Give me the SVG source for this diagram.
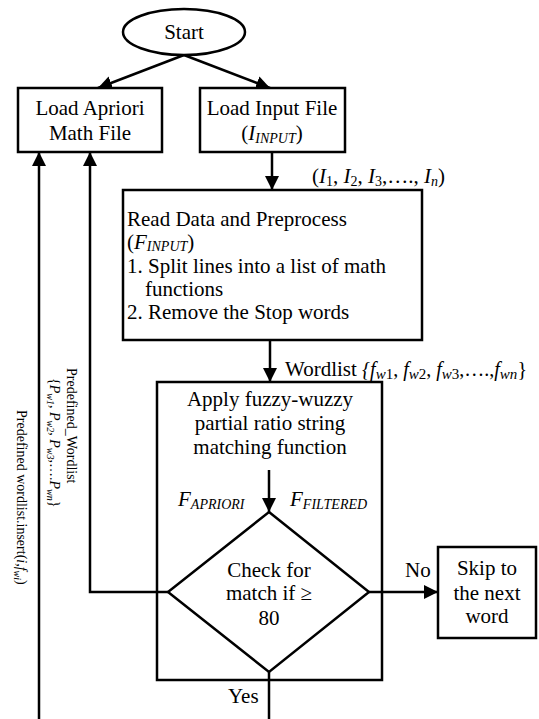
<svg xmlns="http://www.w3.org/2000/svg" width="539" height="719" viewBox="0 0 539 719" font-family="'Liberation Serif','Times New Roman',serif">
<style>
.s{fill:#fff;stroke:#000;stroke-width:2.5}
.c{fill:none;stroke:#000;stroke-width:2.5}
text{font-family:"Liberation Serif","Times New Roman",serif;font-size:21px;fill:#000}
.m{text-anchor:middle}
.i{font-style:italic}
.sub{font-size:14px}
.r{font-size:14px}
.w{font-size:20px}
.ws{font-size:15px}
</style>
<defs>
<marker id="a" markerUnits="userSpaceOnUse" markerWidth="14" markerHeight="14" refX="14" refY="7" orient="auto">
<path d="M0,0 L14,7 L0,14 z" fill="#000"/>
</marker>
</defs>
<g id="connectors">
<line class="c" x1="184" y1="55" x2="98" y2="88" marker-end="url(#a)"/>
<line class="c" x1="184" y1="55" x2="270" y2="88" marker-end="url(#a)"/>
<line class="c" x1="272" y1="152" x2="272" y2="190" marker-end="url(#a)"/>
<line class="c" x1="270" y1="340" x2="270" y2="382" marker-end="url(#a)"/>
<line class="c" x1="269" y1="470" x2="269" y2="512" marker-end="url(#a)"/>
<line class="c" x1="369" y1="592" x2="438" y2="592" marker-end="url(#a)"/>
<polyline class="c" points="168,592 90,592 90,152" marker-end="url(#a)"/>
<line class="c" x1="269" y1="672" x2="269" y2="719"/>
<line class="c" x1="39" y1="719" x2="39" y2="152" marker-end="url(#a)"/>
</g>
<g id="start">
<ellipse class="s" cx="184" cy="32" rx="61" ry="23"/>
<text class="m" x="184" y="39">Start</text>
</g>
<g id="load-apriori">
<rect class="s" x="18" y="88" width="144" height="64"/>
<text class="m" x="90" y="115">Load Apriori</text>
<text class="m" x="90" y="140">Math File</text>
</g>
<g id="load-input">
<rect class="s" x="200" y="88" width="145" height="64"/>
<text class="m" x="272" y="115">Load Input File</text>
<text class="m" x="272" y="140">(<tspan class="i">I</tspan><tspan class="i sub" dy="3">INPUT</tspan><tspan dy="-3">)</tspan></text>
</g>
<g id="input-label">
<text x="312" y="183">(<tspan class="i">I</tspan><tspan class="sub" dy="3">1</tspan><tspan dy="-3">, </tspan><tspan class="i">I</tspan><tspan class="sub" dy="3">2</tspan><tspan dy="-3">, </tspan><tspan class="i">I</tspan><tspan class="sub" dy="3">3</tspan><tspan dy="-3">,…., </tspan><tspan class="i">I</tspan><tspan class="i sub" dy="3">n</tspan><tspan dy="-3">)</tspan></text>
</g>
<g id="read-data">
<rect class="s" x="123" y="190" width="299" height="150"/>
<text x="127" y="226">Read Data and Preprocess</text>
<text x="127" y="249">(<tspan class="i">F</tspan><tspan class="i sub" dy="2">INPUT</tspan><tspan dy="-2">)</tspan></text>
<text x="127" y="273">1. Split lines into a list of math</text>
<text x="145" y="296">functions</text>
<text x="127" y="319">2. Remove the Stop words</text>
</g>
<g id="wordlist-label">
<text x="285" y="376">Wordlist <tspan class="i w">{f</tspan><tspan class="i ws" dy="3">w</tspan><tspan class="ws">1</tspan><tspan class="w" dy="-3">, </tspan><tspan class="i w">f</tspan><tspan class="i ws" dy="3">w</tspan><tspan class="ws">2</tspan><tspan class="w" dy="-3">, </tspan><tspan class="i w">f</tspan><tspan class="i ws" dy="3">w</tspan><tspan class="ws">3</tspan><tspan class="w" dy="-3">,….,</tspan><tspan class="i w">f</tspan><tspan class="i ws" dy="3">wn</tspan><tspan class="w" dy="-3">}</tspan></text>
</g>
<g id="fuzzy-box">
<rect class="c" x="157" y="382" width="225" height="298"/>
<text class="m" x="270" y="406">Apply fuzzy-wuzzy</text>
<text class="m" x="270" y="430">partial ratio string</text>
<text class="m" x="270" y="454">matching function</text>
<text x="178" y="506"><tspan class="i">F</tspan><tspan class="i sub" dy="3">APRIORI</tspan></text>
<text x="290" y="506"><tspan class="i">F</tspan><tspan class="i sub" dy="3">FILTERED</tspan></text>
</g>
<g id="check">
<polygon class="s" points="269,512 369,592 269,672 168,592"/>
<text class="m" x="269" y="577">Check for</text>
<text class="m" x="269" y="600">match if ≥</text>
<text class="m" x="269" y="625">80</text>
</g>
<g id="skip">
<rect class="s" x="438" y="547" width="98" height="91"/>
<text class="m" x="487" y="575">Skip to</text>
<text class="m" x="487" y="600">the next</text>
<text class="m" x="487" y="623">word</text>
</g>
<g id="labels">
<text x="405" y="577">No</text>
<text x="228" y="703">Yes</text>
<text class="r" transform="translate(17,410) rotate(90)">Predefined  wordlist.insert(<tspan class="i">i,f</tspan><tspan class="i" font-size="10" dy="3">wi</tspan><tspan dy="-3">)</tspan></text>
<text class="r" transform="translate(67,368) rotate(90)">Predefined_Wordlist</text>
<text class="r" transform="translate(50,378) rotate(90)">{<tspan class="i">P</tspan><tspan class="i" font-size="10" dy="3">w1</tspan><tspan dy="-3">, </tspan><tspan class="i">P</tspan><tspan class="i" font-size="10" dy="3">w2</tspan><tspan dy="-3">, </tspan><tspan class="i">P</tspan><tspan class="i" font-size="10" dy="3">w3</tspan><tspan dy="-3">,….</tspan><tspan class="i">P</tspan><tspan class="i" font-size="10" dy="3">wn</tspan><tspan dy="-3">}</tspan></text>
</g>
</svg>
